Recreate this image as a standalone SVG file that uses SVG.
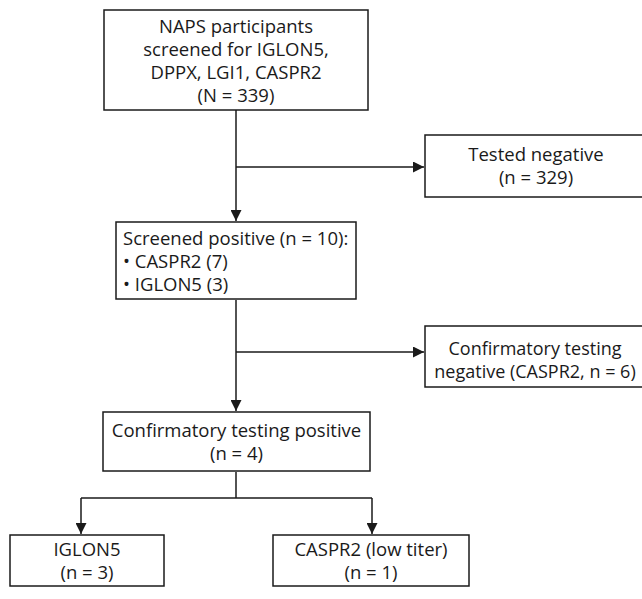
<svg xmlns="http://www.w3.org/2000/svg" width="642" height="599" viewBox="0 0 642 599">
<style>
.box{fill:#fff;stroke:#1a1a1a;stroke-width:1.5}
.t{font-family:"Open Sans","Noto Sans",sans-serif;font-size:18.5px;fill:#1a1a1a}
.c{text-anchor:middle}
.s{font-size:18px}
.ln{fill:none;stroke:#1a1a1a;stroke-width:1.5}
</style>
<defs>
<marker id="ah" viewBox="0 0 10 10" refX="10" refY="5" markerWidth="11" markerHeight="11" markerUnits="userSpaceOnUse" orient="auto">
<path d="M0,0 L10,5 L0,10 Z" fill="#1a1a1a"/>
</marker>
</defs>
<rect width="642" height="599" fill="#fff"/>
<g id="connectors">
<path class="ln" d="M236,110 V221" marker-end="url(#ah)"/>
<path class="ln" d="M236,167 H424" marker-end="url(#ah)"/>
<path class="ln" d="M236,300 V411" marker-end="url(#ah)"/>
<path class="ln" d="M236,352 H424" marker-end="url(#ah)"/>
<path class="ln" d="M236,472 V498"/>
<path class="ln" d="M81,498 H372"/>
<path class="ln" d="M81,498 V534" marker-end="url(#ah)"/>
<path class="ln" d="M372,498 V534" marker-end="url(#ah)"/>
</g>
<g id="n1">
<rect class="box" x="104" y="10" width="264" height="100"/>
<text class="t c" x="236" y="33">NAPS participants</text>
<text class="t c" x="236" y="56">screened for IGLON5,</text>
<text class="t c" x="236" y="79">DPPX, LGI1, CASPR2</text>
<text class="t c" x="236" y="102">(N = 339)</text>
</g>
<g id="n2">
<rect class="box" x="425" y="135" width="222" height="62"/>
<text class="t c" x="536" y="161">Tested negative</text>
<text class="t c" x="536" y="184">(n = 329)</text>
</g>
<g id="n3">
<rect class="box" x="116" y="222" width="240" height="77"/>
<text class="t" x="123" y="245">Screened positive (n = 10):</text>
<text class="t" x="123" y="268">• CASPR2 (7)</text>
<text class="t" x="123" y="291">• IGLON5 (3)</text>
</g>
<g id="n4">
<rect class="box" x="425" y="326" width="222" height="61"/>
<text class="t c s" x="535" y="355">Confirmatory testing</text>
<text class="t c s" x="535" y="378">negative (CASPR2, n = 6)</text>
</g>
<g id="n5">
<rect class="box" x="103" y="412" width="267" height="59"/>
<text class="t c" x="236.5" y="437">Confirmatory testing positive</text>
<text class="t c" x="236.5" y="460">(n = 4)</text>
</g>
<g id="n6">
<rect class="box" x="10" y="535" width="154" height="51"/>
<text class="t c" x="87" y="556">IGLON5</text>
<text class="t c" x="87" y="579">(n = 3)</text>
</g>
<g id="n7">
<rect class="box" x="273" y="535" width="196" height="51"/>
<text class="t c" x="371" y="556">CASPR2 (low titer)</text>
<text class="t c" x="371" y="579">(n = 1)</text>
</g>
</svg>
